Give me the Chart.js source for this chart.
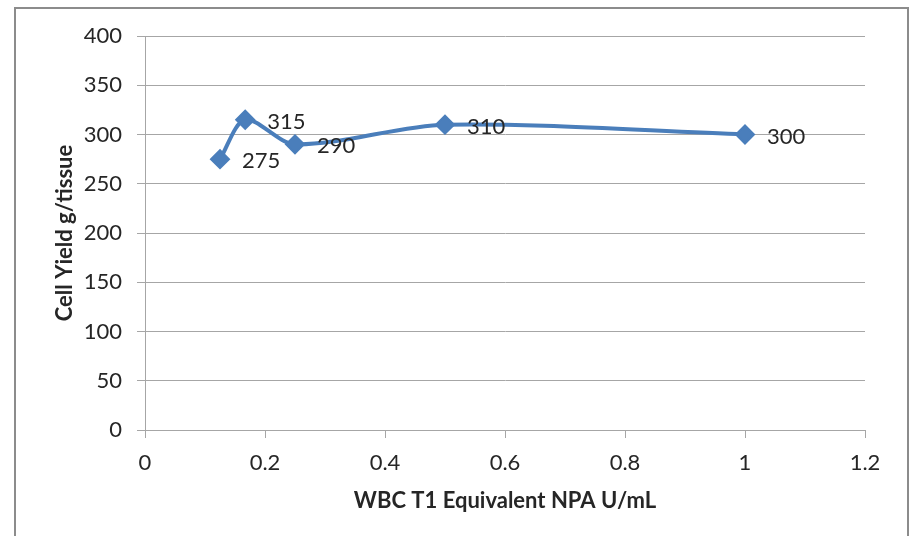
<!DOCTYPE html>
<html>
<head>
<meta charset="utf-8">
<script src="https://cdn.jsdelivr.net/npm/chart.js@4.4.1/dist/chart.umd.min.js"></script>
<style>
  html, body { margin: 0; padding: 0; background: #fff; }
  #wrap { position: relative; width: 918px; height: 536px; }
</style>
</head>
<body>
<div id="wrap"><canvas id="myChart" width="918" height="536"></canvas></div>
<script>
// values
const xValues = [0.125, 0.167, 0.25, 0.5, 1];
const yValues = [275, 315, 290, 310, 300];
const pointLabels = ['275', '315', '290', '310', '300'];
const yTicks = [0, 50, 100, 150, 200, 250, 300, 350, 400];
const xTicks = [0, 0.2, 0.4, 0.6, 0.8, 1, 1.2];

const gridColor = '#a6a6a6';
const textColor = '#262626';
const fontFamily = 'Lato, "Open Sans", sans-serif';

// outer frame like the Excel chart area
const frame = {
    id: 'frame',
    beforeDraw(chart) {
        const c = chart.ctx;
        c.save();
        c.fillStyle = '#fff';
        c.fillRect(0, 0, chart.width, chart.height);
        c.strokeStyle = '#8c8c8c';
        c.lineWidth = 2;
        c.strokeRect(15, 8, 893, 540);
        c.restore();
    }
};

// value labels to the right of each point
const valueLabels = {
    id: 'valueLabels',
    afterDatasetsDraw(chart) {
        const c = chart.ctx;
        const meta = chart.getDatasetMeta(0);
        c.save();
        c.font = '22px ' + fontFamily;
        c.fillStyle = textColor;
        c.textAlign = 'left';
        c.textBaseline = 'middle';
        meta.data.forEach((pt, i) => {
            c.fillText(pointLabels[i], pt.x + 22, pt.y + 2);
        });
        c.restore();
    }
};

const ctx = document.getElementById('myChart').getContext('2d');
let myChart = new Chart(ctx, {
    type: 'line',
    data: {
        datasets: [{
            data: xValues.map((x, i) => ({ x: x, y: yValues[i] })),
            borderColor: '#4a7ebb',
            backgroundColor: '#4a7ebb',
            borderWidth: 4,
            tension: 0.3,
            pointStyle: 'rectRot',
            pointRadius: 9,
            pointBorderWidth: 2,
            pointBorderColor: '#4a7ebb',
            pointBackgroundColor: '#4a7ebb'
        }]
    },
    options: {
        responsive: false,
        animation: false,
        layout: { padding: { left: 52, top: 36, right: 53, bottom: 22 } },
        plugins: {
            legend: { display: false },
            tooltip: { enabled: false }
        },
        scales: {
            x: {
                type: 'linear',
                min: 0,
                max: 1.2,
                afterBuildTicks: axis => { axis.ticks = xTicks.map(v => ({ value: v })); },
                afterFit: axis => { axis.height = 84; },
                grid: {
                    drawOnChartArea: false,
                    drawTicks: true,
                    tickLength: 8,
                    color: gridColor
                },
                border: { color: gridColor },
                ticks: {
                    padding: 12,
                    color: textColor,
                    font: { family: fontFamily, size: 22 },
                    callback: v => String(+v.toFixed(1))
                },
                title: {
                    display: true,
                    text: 'WBC T1 Equivalent NPA U/mL',
                    color: textColor,
                    font: { family: fontFamily, size: 22, weight: 'bold' },
                    padding: 0
                }
            },
            y: {
                min: 0,
                max: 400,
                afterBuildTicks: axis => { axis.ticks = yTicks.map(v => ({ value: v })); },
                afterFit: axis => { axis.width = 93; },
                grid: {
                    drawTicks: true,
                    tickLength: 8,
                    color: gridColor
                },
                border: { color: gridColor },
                ticks: {
                    padding: 15,
                    color: textColor,
                    font: { family: fontFamily, size: 22 }
                },
                title: {
                    display: true,
                    text: 'Cell Yield g/tissue',
                    color: textColor,
                    font: { family: fontFamily, size: 22, weight: 'bold' },
                    padding: 0
                }
            }
        }
    },
    plugins: [frame, valueLabels]
});
</script>
</body>
</html>
